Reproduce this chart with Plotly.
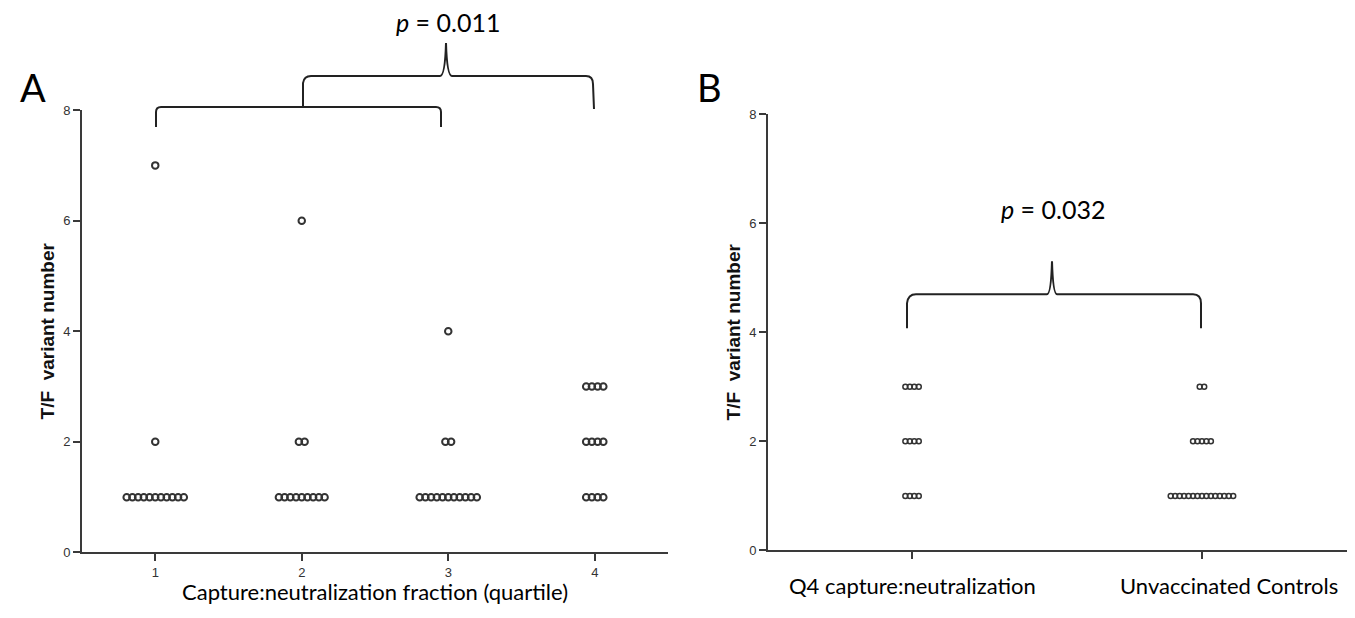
import plotly.graph_objects as go

# ---------------- data ----------------
# Panel A: T/F variant number by capture:neutralization quartile
quartiles = [1, 2, 3, 4]
quartile_labels = ["1", "2", "3", "4"]
q1_values = [1, 2, 7]
q1_counts = [11, 1, 1]
q2_values = [1, 2, 6]
q2_counts = [9, 2, 1]
q3_values = [1, 2, 4]
q3_counts = [11, 2, 1]
q4_values = [1, 2, 3]
q4_counts = [4, 4, 4]

# Panel B: Q4 vs unvaccinated controls
groups_b = ["Q4 capture:neutralization", "Unvaccinated Controls"]
b_q4_values = [1, 2, 3]
b_q4_counts = [4, 4, 4]
b_ctrl_values = [1, 2, 3]
b_ctrl_counts = [15, 5, 2]

y_ticks = [0, 2, 4, 6, 8]
p_a = "0.011"
p_b = "0.032"

W, H = 1355, 618
X_OFF = 8        # page offset (horizontal)
Y_TOP = 16       # observed top of the drawing area
Y_SPAN = 602.5   # observed drawn height


def dots(center, values, counts, step):
    xs, ys = [], []
    for v, n in zip(values, counts):
        for i in range(n):
            xs.append(center + (i - (n - 1) / 2) * step)
            ys.append(v)
    return xs, ys


def PX(x):
    return (x - X_OFF) / W


def PY(y):
    return 1 - (y - Y_TOP) / Y_SPAN


def path(cmds):
    out = []
    for cmd in cmds:
        c = cmd[0]
        coords = [f"{PX(x):.5f},{PY(y):.5f}" for (x, y) in cmd[1:]]
        out.append(c + " " + " ".join(coords))
    return " ".join(out)


fig = go.Figure()

mk_color = "#333333"
groups_a = [(q1_values, q1_counts), (q2_values, q2_counts),
            (q3_values, q3_counts), (q4_values, q4_counts)]
for q, (vals, cnts) in zip(quartiles, groups_a):
    xs, ys = dots(q, vals, cnts, 0.039)
    fig.add_trace(go.Scatter(
        x=xs, y=ys, mode="markers", xaxis="x", yaxis="y",
        marker=dict(symbol="circle-open", size=6.5, color=mk_color,
                    line=dict(width=2, color=mk_color)),
        showlegend=False, hoverinfo="skip"))

for gi, (vals, cnts) in enumerate([(b_q4_values, b_q4_counts),
                                   (b_ctrl_values, b_ctrl_counts)]):
    xs, ys = dots(gi, vals, cnts, 0.0154)
    fig.add_trace(go.Scatter(
        x=xs, y=ys, mode="markers", xaxis="x2", yaxis="y2",
        marker=dict(symbol="circle-open", size=5, color=mk_color,
                    line=dict(width=1.5, color=mk_color)),
        showlegend=False, hoverinfo="skip"))

tick_font = dict(family="Liberation Sans, Arial", size=13, color="#333333")
axis_common = dict(showgrid=False, zeroline=False, showline=True,
                   linecolor="#3a3a3a", linewidth=2, ticks="outside",
                   tickcolor="#3a3a3a", tickwidth=1.5, mirror=False,
                   tickfont=tick_font)
ytitle_font = dict(family="Liberation Sans, Arial", size=19, color="#111111")

fig.update_layout(
    width=W, height=H,
    margin=dict(l=0, r=0, t=0, b=0),
    paper_bgcolor="white", plot_bgcolor="white",
    xaxis=dict(domain=[PX(82), PX(668)], range=[0.5, 4.5],
               tickvals=quartiles, ticktext=quartile_labels, ticklen=7,
               anchor="y", **axis_common),
    yaxis=dict(domain=[PY(553), PY(111)], range=[0, 8],
               tickvals=y_ticks, ticklen=7, anchor="x",
               title=dict(text="<b>T/F  variant number</b>", standoff=4,
                          font=ytitle_font),
               **axis_common),
    xaxis2=dict(domain=[PX(768), PX(1355)], range=[-0.497, 1.528],
                tickvals=[0, 1], showticklabels=False, ticklen=7,
                anchor="y2", **axis_common),
    yaxis2=dict(domain=[PY(551), PY(115)], range=[0, 8],
                tickvals=y_ticks, ticklen=7, anchor="x2",
                title=dict(text="<b>T/F  variant number</b>", standoff=4,
                           font=ytitle_font),
                **axis_common),
)

txt_font = "Lato, Open Sans, sans-serif"


def note(x, y, text, size, xref="paper", xshift=0):
    return dict(x=x, y=PY(y), xref=xref, yref="paper", text=text,
                showarrow=False, xanchor="center", yanchor="middle",
                xshift=xshift, font=dict(family=txt_font, size=size, color="black"))


ann = [
    note(PX(33), 88, "A", 38),
    note(PX(709), 88, "B", 38),
    note(PX(448), 23, f"<i>p</i> = {p_a}", 25),
    note(PX(1053), 210, f"<i>p</i> = {p_b}", 25),
    note(PX(375), 592, "Capture:neutralization fraction (quartile)", 22),
    note(0, 586, groups_b[0], 22, xref="x2"),
    note(1, 586, groups_b[1], 22, xref="x2", xshift=27),
]
fig.update_layout(annotations=ann)

line = dict(color="#222222", width=2)
brace_a_low = path([("M", (156, 128)), ("L", (156, 113)), ("Q", (156, 108), (161, 108)),
                    ("L", (436, 108)), ("Q", (441, 108), (441, 113)), ("L", (441, 128))])
brace_a_up = path([("M", (303, 108)), ("L", (303, 84)), ("Q", (304, 77), (311, 77)),
                   ("L", (440, 77)), ("Q", (445, 77), (446, 44)), ("Q", (447, 77), (452, 77)),
                   ("L", (586, 77)), ("Q", (593, 77), (593, 85)), ("L", (594, 110))])
brace_b = path([("M", (907, 329)), ("L", (907, 304)), ("Q", (908, 295), (916, 295)),
                ("L", (1047, 295)), ("Q", (1051, 295), (1052, 262)), ("Q", (1053, 295), (1057, 295)),
                ("L", (1193, 295)), ("Q", (1201, 295), (1201, 304)), ("L", (1201, 329))])
shapes = [dict(type="path", xref="paper", yref="paper", path=p, line=line)
          for p in (brace_a_low, brace_a_up, brace_b)]
fig.update_layout(shapes=shapes)

fig.write_html("out.html")
